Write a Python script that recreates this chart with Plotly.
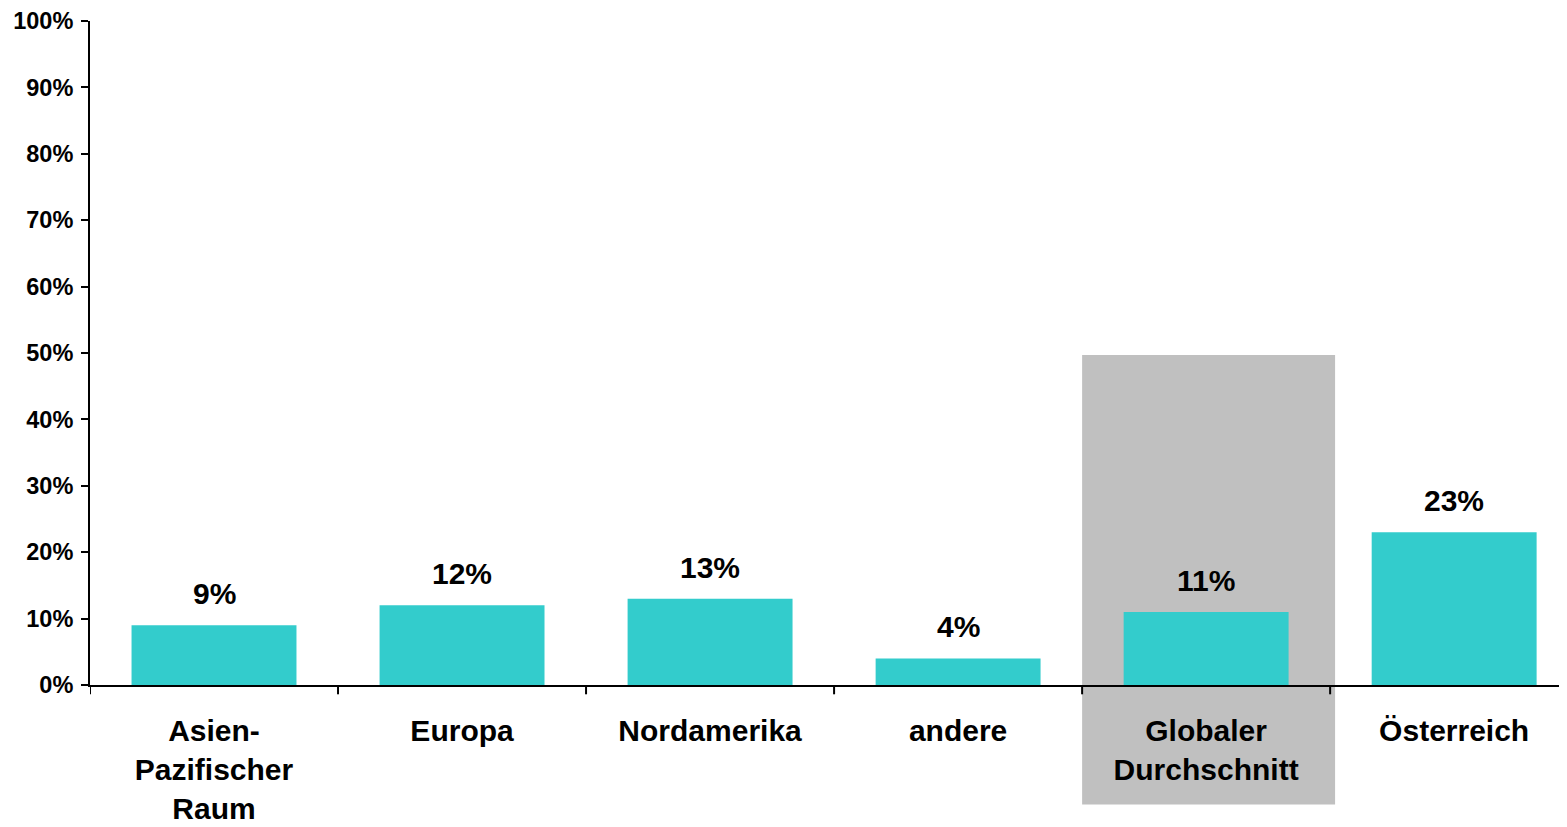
import plotly.graph_objects as go

categories = ["Asien-<br>Pazifischer<br>Raum", "Europa", "Nordamerika", "andere",
              "Globaler<br>Durchschnitt", "Österreich"]
values = [9, 12, 13, 4, 11, 23]
value_labels = ["9%", "12%", "13%", "4%", "11%", "23%"]
y_ticks = [0, 10, 20, 30, 40, 50, 60, 70, 80, 90, 100]
y_tick_labels = [f"{v}%" for v in y_ticks]

highlight_index = 4

FONT = "Liberation Sans, Arial, sans-serif"

fig = go.Figure()
fig.add_trace(go.Bar(
    x=list(range(len(categories))),
    y=values,
    width=0.665,
    marker=dict(color="#33CCCC", line=dict(width=0)),
    hoverinfo="skip",
))

for i, (v, t) in enumerate(zip(values, value_labels)):
    fig.add_annotation(
        x=i, y=v, text=t, showarrow=False, yanchor="bottom", yshift=13,
        font=dict(family=FONT, size=30, color="black", weight="bold"),
    )

# highlight box behind the "Globaler Durchschnitt" category (extends below axis)
fig.add_shape(
    type="rect", xref="x", yref="paper",
    x0=highlight_index - 0.5, x1=highlight_index + 0.52,
    y0=-0.18, y1=0.497,
    fillcolor="#C0C0C0", line=dict(width=0), layer="below",
)

fig.update_layout(
    width=1559, height=819,
    margin=dict(l=82, r=0, t=11, b=142),
    plot_bgcolor="rgba(0,0,0,0)",
    paper_bgcolor="white",
    showlegend=False,
    font=dict(family=FONT, color="black", weight="bold"),
    xaxis=dict(
        range=[-0.5, 5.455],
        tickmode="array",
        tickvals=list(range(len(categories))),
        ticktext=categories,
        showgrid=False, zeroline=False,
        showline=True, linecolor="black", linewidth=2,
        ticks="",
        tickfont=dict(family=FONT, size=30, color="black", weight="bold"),
        ticklabelstandoff=18,
        ticklabeloverflow="allow",
    ),
    yaxis=dict(
        range=[0, 100],
        tickmode="array",
        tickvals=y_ticks,
        ticktext=y_tick_labels,
        showgrid=False, zeroline=False,
        showline=True, linecolor="black", linewidth=2,
        ticks="outside", ticklen=7, tickwidth=2, tickcolor="black",
        tickfont=dict(family=FONT, size=23.5, color="black", weight="bold"),
        ticklabelstandoff=3,
        ticklabeloverflow="allow",
    ),
)

# category boundary ticks on x axis
for b in [i - 0.5 for i in range(len(categories) + 1)]:
    fig.add_shape(type="line", xref="x", yref="paper", x0=b, x1=b, y0=0, y1=-0.014,
                  line=dict(color="black", width=2))

fig.write_html("out.html")
